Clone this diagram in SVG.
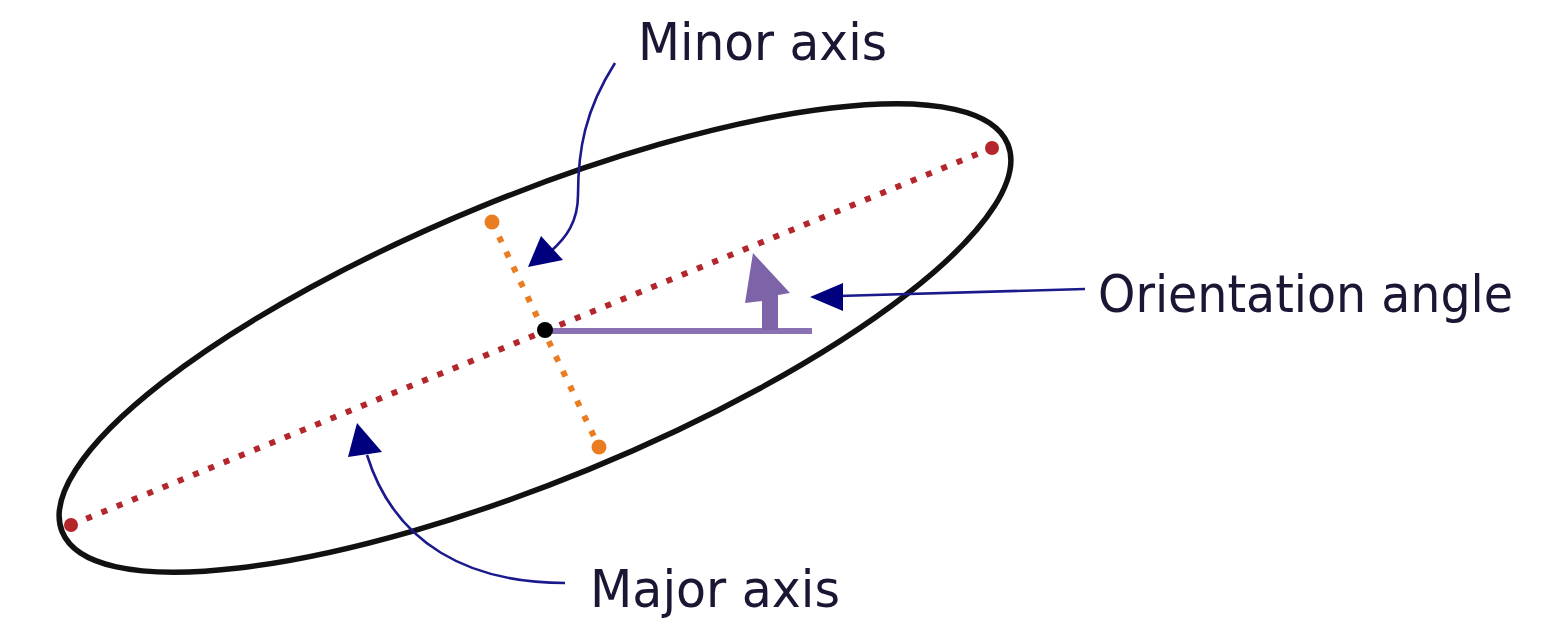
<svg xmlns="http://www.w3.org/2000/svg" width="1567" height="620" viewBox="0 0 1567 620">
<style>
.lbl{font-family:"DejaVu Sans Condensed","DejaVu Sans",sans-serif;font-size:52px;fill:#1c1634;}
.conn{fill:none;stroke:#1a1a8c;stroke-width:2.6;}
.head{fill:#00007f;}
.maj{stroke:#b3262c;stroke-width:6;stroke-dasharray:6 10.5;fill:none;}
.min{stroke:#ea7d22;stroke-width:6;stroke-dasharray:6 10.5;fill:none;}
</style>
<rect width="1567" height="620" fill="#ffffff"/>
<g id="ellipse">
<ellipse cx="535" cy="338" rx="511" ry="142" transform="rotate(-22.3 535 338)" fill="none" stroke="#111" stroke-width="5.5"/>
</g>
<g id="major-axis">
<line class="maj" x1="71" y1="525" x2="992" y2="148"/>
<circle cx="71" cy="525" r="7" fill="#b3262c"/>
<circle cx="992" cy="148" r="7" fill="#b3262c"/>
</g>
<g id="minor-axis">
<line class="min" x1="492" y1="222" x2="599" y2="447"/>
<circle cx="492" cy="222" r="7.5" fill="#ea7d22"/>
<circle cx="599" cy="447" r="7.5" fill="#ea7d22"/>
</g>
<g id="orientation">
<line x1="545" y1="331" x2="812" y2="331" stroke="#8a72b2" stroke-width="6"/>
<polygon points="762,330 762,301 745,303 753,253 790,293 778,295 778,330" fill="#7d64a8"/>
</g>
<g id="center">
<circle cx="545" cy="330" r="8" fill="#000"/>
</g>
<g id="connectors">
<path class="conn" d="M615,63 C585,110 578,150 578,195 C578,222 566,238 550,252"/>
<polygon class="head" points="528,267 541,236 563,260"/>
<path class="conn" d="M565,583 C470,583 395,545 367,455"/>
<polygon class="head" points="357,423 348,457 382,452"/>
<path class="conn" d="M1085,289 L838,296"/>
<polygon class="head" points="810,297 843,283 843,311"/>
</g>
<g id="label-minor"><text class="lbl" x="638" y="60" textLength="249" lengthAdjust="spacingAndGlyphs">Minor axis</text></g>
<g id="label-orientation"><text class="lbl" x="1098" y="312" textLength="415" lengthAdjust="spacingAndGlyphs">Orientation angle</text></g>
<g id="label-major"><text class="lbl" x="590" y="607" textLength="250" lengthAdjust="spacingAndGlyphs">Major axis</text></g>
</svg>
